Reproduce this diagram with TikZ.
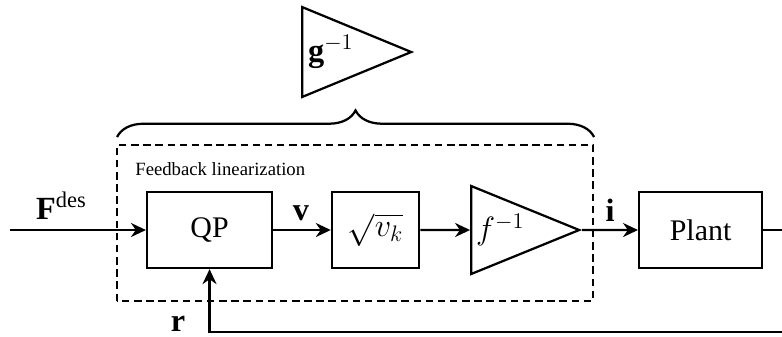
\documentclass[tikz,border=0pt]{standalone}
\usepackage{amsmath}
\usepackage{fontspec}
\setmainfont{Liberation Serif}
\usetikzlibrary{shapes.geometric,arrows.meta,decorations.pathreplacing}

\tikzset{
  block/.style={draw, line width=1.2pt, minimum width=2.35cm, minimum height=1.43cm,
    font=\fontsize{16}{19}\selectfont},
  amp/.style={draw, line width=1.2pt, isosceles triangle, isosceles triangle stretches,
    inner sep=1pt, minimum height=2.03cm, minimum width=1.654cm, anchor=west,
    font=\LARGE},
  sig/.style={line width=1.2pt, -{Stealth[length=8pt,width=7.5pt]}},
  lbl/.style={font=\LARGE, anchor=base},
}

\begin{document}
\begin{tikzpicture}
  \useasboundingbox (0,0) rectangle (14.70,6.317);
  \clip (0,0) rectangle (14.70,6.317);
  % blocks
  \node[block] (qp) at (3.939,1.993) {QP};
  \node[block, minimum width=1.64cm, font=\LARGE] (sqrt) at (7.059,1.993) {$\sqrt{v_k}$};
  \node[amp] (finv) at (8.836,1.993) {$f^{-1}$};
  \node[block, minimum width=2.31cm] (plant) at (13.169,1.993) {Plant};
  \node[amp, minimum height=2.05cm, minimum width=1.69cm] (ginv) at (5.659,5.339) {$\mathbf{g}^{-1}$};
  % feedback linearization
  \draw[line width=1.2pt, dash pattern=on 4pt off 2.5pt] (2.200,0.658) rectangle (11.148,3.591);
  \node[anchor=base west, inner sep=0pt] (fblin) at (2.538,3.027) {Feedback linearization};
  \draw[line width=1.2pt, decorate, decoration={brace, amplitude=0.5cm}] (2.200,3.741) -- (11.167,3.741);
  % signals
  \coordinate (in) at (0.188,1.993);
  \coordinate (turn) at (15.2,0.075);
  \draw[sig] (in) -- (qp);
  \draw[sig] (qp) -- (sqrt);
  \draw[sig] (sqrt) -- (finv);
  \draw[sig] (finv.apex) -- (plant);
  \draw[sig] (plant.east) -| (turn) -| (qp.south);
  \node[lbl] (lblF) at (1.156,2.199) {$\mathbf{F}^{\text{des}}$};
  \node[lbl] (lblv) at (5.659,2.180) {$\mathbf{v}$};
  \node[lbl] (lbli) at (11.467,2.162) {$\mathbf{i}$};
  \node[lbl] (lblr) at (3.346,0.090) {$\mathbf{r}$};
\end{tikzpicture}
\end{document}
